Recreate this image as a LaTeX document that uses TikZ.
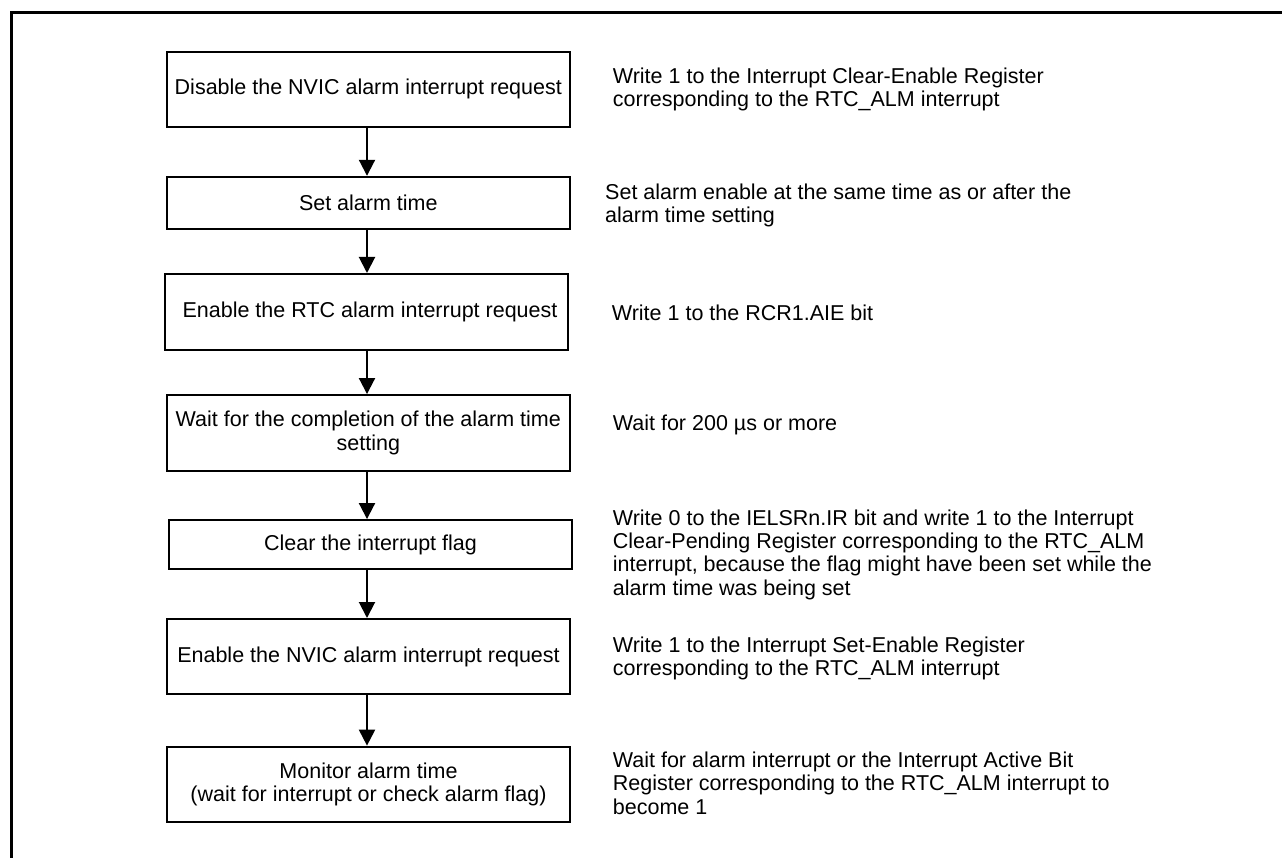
\documentclass[tikz,border=0pt]{standalone}
\usepackage{fontspec}
\setmainfont{Liberation Sans}
\usetikzlibrary{arrows.meta}
\begin{document}
\begin{tikzpicture}[x=1pt,y=-1pt,
  txt/.style={font=\fontsize{21.5}{23.4}\selectfont},
  stepbox/.style={draw, line width=2pt, inner sep=0pt, align=center, txt, minimum width=403pt},
  note/.style={anchor=base west, inner sep=0pt, align=left, txt},
  flow/.style={-{Triangle[length=16pt,width=16pt]}, line width=2pt}]
\useasboundingbox (0,0) rectangle (1282,858);
\draw[line width=3pt] (11.5,858) -- (11.5,12.5) -- (1282,12.5);
\coordinate (ax) at (367,0);
\node[stepbox, minimum height=75pt] (b1) at (368.3,89.3) {Disable the NVIC alarm interrupt request};
\node[stepbox, minimum height=52pt] (b2) at (368.3,202.8) {Set alarm time};
\node[stepbox, minimum height=76pt] (b3) at (366.5,312) {\hspace*{7pt}Enable the RTC alarm interrupt request};
\node[stepbox, minimum height=75.5pt] (b4) at (368.3,432.8) {Wait for the completion of the alarm time\\setting};
\node[stepbox, minimum height=49.3pt] (b5) at (370.5,544.7) {Clear the interrupt flag};
\node[stepbox, minimum height=75pt] (b6) at (368.5,656.5) {Enable the NVIC alarm interrupt request};
\node[stepbox, minimum height=75.3pt] (b7) at (368.5,784.3) {Monitor alarm time\\(wait for interrupt or check alarm flag)};
\foreach \a/\b in {b1/b2,b2/b3,b3/b4,b4/b5,b5/b6,b6/b7}
  \draw[flow] (\a.south -| ax) -- (\b.north -| ax);
\node[note] (n1) at (612.7,106.7) {Write 1 to the Interrupt Clear-Enable Register\\corresponding to the RTC\_ALM interrupt};
\node[note] (n2) at (605,222.5) {Set alarm enable at the same time as or after the\\alarm time setting};
\node[note] (n3) at (611.7,320.7) {Write 1 to the RCR1.AIE bit};
\node[note] (n4) at (612.7,430.7) {Wait for 200 µs or more};
\node[note] (n5) at (612.7,595.2) {Write 0 to the IELSRn.IR bit and write 1 to the Interrupt\\Clear-Pending Register corresponding to the RTC\_ALM\\interrupt, because the flag might have been set while the\\alarm time was being set};
\node[note] (n6) at (612.7,675.5) {Write 1 to the Interrupt Set-Enable Register\\corresponding to the RTC\_ALM interrupt};
\node[note] (n7) at (612.7,814) {Wait for alarm interrupt or the Interrupt Active Bit\\Register corresponding to the RTC\_ALM interrupt to\\become 1};
\end{tikzpicture}
\end{document}
